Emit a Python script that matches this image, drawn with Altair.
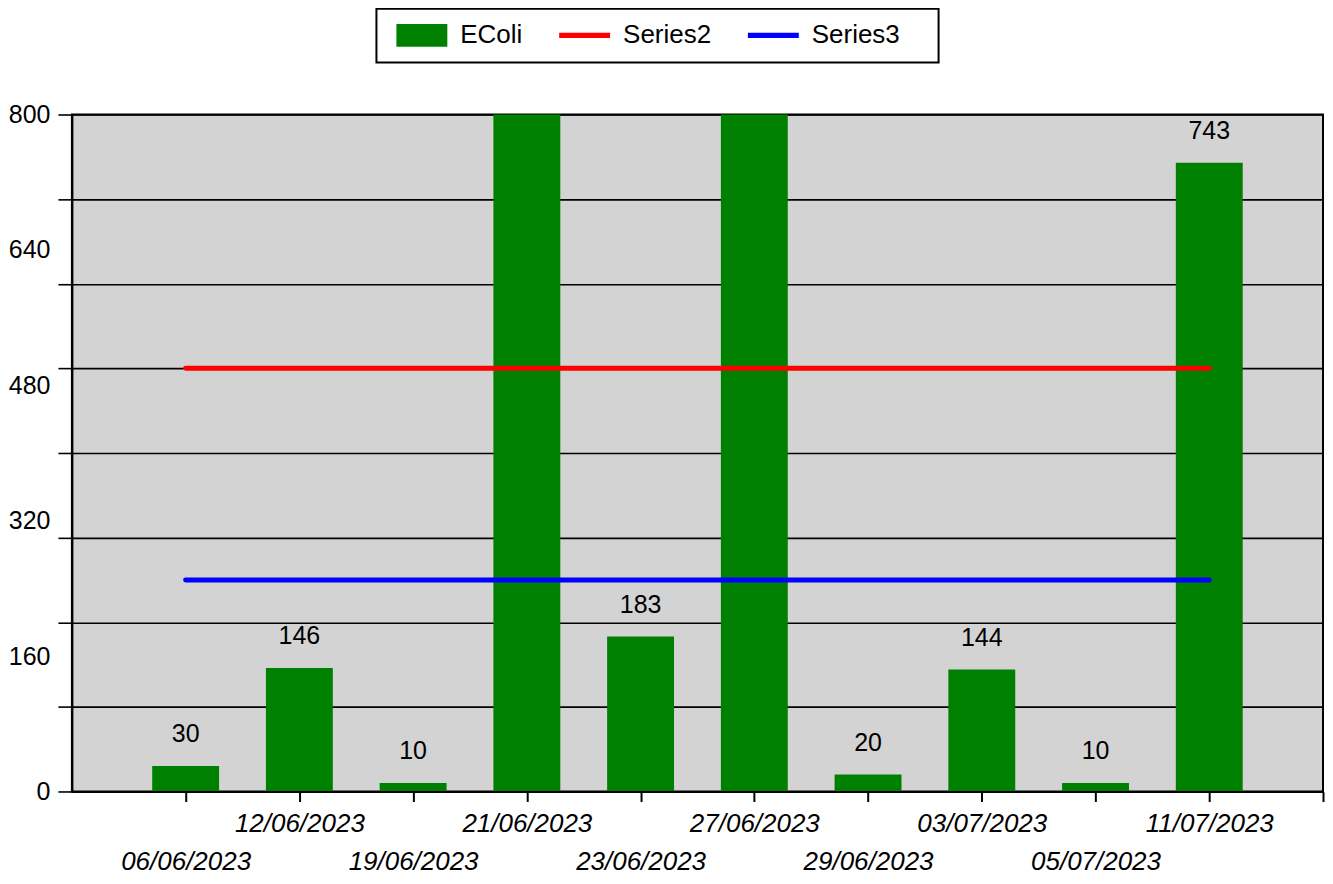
import json
import altair as alt
import pandas as pd

# ---- data ----
dates = ["06/06/2023", "12/06/2023", "19/06/2023", "21/06/2023", "23/06/2023",
         "27/06/2023", "29/06/2023", "03/07/2023", "05/07/2023", "11/07/2023"]
positions = [1, 2, 3, 4, 5, 6, 7, 8, 9, 10]
ecoli = [30, 146, 10, 1000, 183, 1000, 20, 144, 10, 743]  # 21/06 and 27/06 run off the top
series2 = [500, 500, 500, 500, 500, 500, 500, 500, 500, 500]
series3 = [250, 250, 250, 250, 250, 250, 250, 250, 250, 250]
y_label_values = [0, 160, 320, 480, 640, 800]
y_grid_values = [0, 100, 200, 300, 400, 500, 600, 700, 800]
x_tick_values = [1, 2, 3, 4, 5, 6, 7, 8, 9, 10, 11]
series_names = ["EColi", "Series2", "Series3"]
series_colors = ["#008000", "#FF0000", "#0000FF"]
legend_shapes = ["M-1,-0.45H1V0.45H-1Z", "M-1,-0.1H1V0.1H-1Z", "M-1,-0.1H1V0.1H-1Z"]

FONT = "Liberation Sans"

bar_df = pd.DataFrame({"pos": positions, "value": ecoli, "series": "EColi"})
line_df = pd.concat([
    pd.DataFrame({"pos": positions, "value": series2, "series": "Series2"}),
    pd.DataFrame({"pos": positions, "value": series3, "series": "Series3"}),
])
legend_df = pd.DataFrame({"series": series_names, "pos": [1, 1, 1], "value": [0, 0, 0]})

x_scale = alt.Scale(domain=[0, 11], nice=False, zero=False, padding=0)
y_scale = alt.Scale(domain=[0, 800], nice=False)
color_scale = alt.Scale(domain=series_names, range=series_colors)
shape_scale = alt.Scale(domain=series_names, range=legend_shapes)

L = json.dumps(dates)
x_label_expr = (
    f"(datum.value >= 1 && datum.value <= 10) ? "
    f"(datum.value % 2 == 1 ? ['', {L}[datum.value - 1]] : {L}[datum.value - 1]) : ''"
)

x_axis = alt.Axis(
    values=x_tick_values, title=None, grid=False,
    tickSize=10, tickWidth=2, tickColor="black",
    domainColor="black", domainWidth=2,
    labelExpr=x_label_expr, labelFont=FONT, labelFontSize=26,
    labelFontStyle="italic", labelColor="black", labelBaseline="alphabetic",
    labelPadding=30, labelLineHeight=38, labelOverlap=False, labelFlush=False,
    labelAngle=0, zindex=1,
)

cond100 = {"condition": {"test": "datum.value % 100 == 0", "value": 1}, "value": 0}
y_axis = alt.Axis(
    values=sorted(set(y_grid_values + y_label_values)), title=None,
    grid=True, gridColor="black", gridWidth=1.6, gridOpacity=cond100,
    tickOpacity=cond100, tickSize=14, tickWidth=1.6, tickColor="black",
    domainColor="black", domainWidth=2,
    labelExpr="datum.value % 160 == 0 ? datum.label : ''",
    labelFont=FONT, labelFontSize=25, labelColor="black", labelPadding=8,
    labelOverlap=False, labelFlush=False,
)

X = alt.X("pos:Q", scale=x_scale, axis=x_axis)
Y = alt.Y("value:Q", scale=y_scale, axis=y_axis)

bars = alt.Chart(bar_df).mark_bar(size=67, orient="vertical", clip=True).encode(
    x=X, y=Y, color=alt.Color("series:N", scale=color_scale, legend=None)
)

labels = alt.Chart(bar_df).transform_filter("datum.value <= 800").mark_text(
    dy=-24, baseline="alphabetic", fontSize=25, font=FONT, color="black"
).encode(x=X, y=Y, text="value:Q")

lines = alt.Chart(line_df).mark_line(strokeWidth=5, strokeCap="round", clip=True).encode(
    x=X, y=Y, color=alt.Color("series:N", scale=color_scale, legend=None),
    detail="series:N",
)

legend_def = alt.Legend(
    orient="none", legendX=305, legendY=-106, direction="horizontal",
    title=" ", titleOrient="right", titlePadding=25, titleFontSize=26,
    symbolSize=2601, symbolStrokeWidth=0, symbolOpacity=1, symbolOffset=6,
    clipHeight=25, labelFont=FONT, labelFontSize=26, labelColor="black",
    labelOffset=13, columnPadding=30, padding=14, strokeColor="black",
    fillColor="white", labelLimit=300,
)

legend_layer = alt.Chart(legend_df).mark_point(filled=True, opacity=0).encode(
    x=X, y=Y,
    color=alt.Color("series:N", scale=color_scale, legend=legend_def),
    shape=alt.Shape("series:N", scale=shape_scale, legend=legend_def),
)

chart = alt.layer(bars, labels, lines, legend_layer).resolve_legend(
    color="independent", shape="independent"
).properties(
    width=1253, height=678,
    autosize=alt.AutoSizeParams(type="none"),
    padding={"left": 64, "top": 106, "right": 2, "bottom": 84},
).configure_view(
    fill="#D3D3D3", stroke="black", strokeWidth=2
).configure_legend(strokeWidth=2)

chart.save("out.html", embed_options={"renderer": "svg", "actions": False})
